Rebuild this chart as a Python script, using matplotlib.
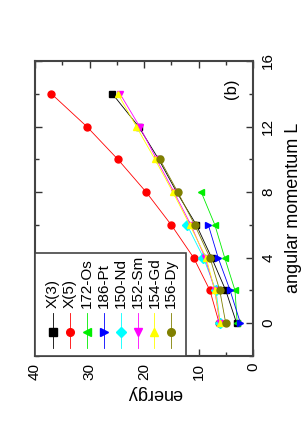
import matplotlib
matplotlib.use("Agg")
import matplotlib.pyplot as plt
from matplotlib.patches import Rectangle
from matplotlib.ticker import MultipleLocator

plt.rcParams['font.family'] = ['Liberation Sans', 'DejaVu Sans']

# data (energy vs angular momentum L); the figure is shown rotated 90 degrees
names = ['X(3)', 'X(5)', '172-Os', '186-Pt', '150-Nd', '152-Sm', '154-Gd', '156-Dy']
colors = ['black', 'red', '#00ee00', 'blue', 'cyan', 'magenta', 'yellow', 'olive']
markers = ['s', 'o', '<', '>', 'D', 'v', '^', 'o']

L_x3 = [0, 2, 4, 6, 8, 10, 12, 14]
E_x3 = [3.0, 5.0, 7.6, 10.4, 14.0, 17.3, 21.0, 25.8]
L_x5 = [0, 2, 4, 6, 8, 10, 12, 14]
E_x5 = [6.2, 7.9, 10.9, 15.0, 19.6, 24.8, 30.5, 37.0]
L_os = [0, 2, 4, 6, 8]
E_os = [2.9, 3.3, 5.2, 7.0, 9.5]
L_pt = [0, 2, 4, 6]
E_pt = [2.3, 4.2, 6.4, 8.2]
L_nd = [0, 2, 4, 6]
E_nd = [6.0, 6.8, 9.1, 12.1]
L_sm = [0, 2, 4, 6, 8, 10, 12, 14]
E_sm = [6.1, 7.0, 8.8, 11.4, 14.5, 17.7, 20.8, 24.4]
L_gd = [0, 2, 4, 6, 8, 10, 12, 14]
E_gd = [6.0, 7.0, 8.6, 11.6, 14.7, 18.0, 21.4, 24.8]
L_dy = [0, 2, 4, 6, 8, 10]
E_dy = [5.0, 6.1, 7.9, 10.7, 13.8, 17.1]

Ls = [L_x3, L_x5, L_os, L_pt, L_nd, L_sm, L_gd, L_dy]
Es = [E_x3, E_x5, E_os, E_pt, E_nd, E_sm, E_gd, E_dy]

fig = plt.figure(figsize=(3.03, 4.36), dpi=100)
ax = fig.add_axes([35 / 303, 1 - 356 / 436, 218 / 303, 295 / 436])

for L, E, c, m in zip(Ls, Es, colors, markers):
    ax.plot(E, L, color=c, lw=0.6, marker=m, ms=5, mec=c, mfc=c)

ax.set_xlim(40, 0)
ax.set_ylim(-2, 16)
ax.xaxis.set_major_locator(MultipleLocator(10))
ax.xaxis.set_minor_locator(MultipleLocator(5))
ax.yaxis.set_major_locator(MultipleLocator(4))
ax.yaxis.set_minor_locator(MultipleLocator(2))
ax.tick_params(which='both', direction='in', top=True, bottom=True, left=True, right=True,
               labelleft=False, labelright=True, labelsize=11, color='#333333', width=1)
ax.tick_params(which='major', length=5)
ax.tick_params(which='minor', length=3)
ax.tick_params(axis='x', pad=5)
ax.tick_params(axis='y', pad=6)
for lab in ax.get_xticklabels():
    lab.set_rotation(90)
    lab.set_va('top')
    lab.set_ha('center')
for lab in ax.get_yticklabels():
    lab.set_rotation(90)
    lab.set_va('center')
for sp in ax.spines.values():
    sp.set_linewidth(1.5)
    sp.set_color('#444444')

fig.text(155 / 303, 1 - 393 / 436, 'energy', rotation=180, ha='center', va='center', fontsize=13)
fig.text(293 / 303, 1 - 208 / 436, 'angular momentum L', rotation=90, ha='center', va='center', fontsize=13)
ax.text(0.9, 0.905, '(b)', rotation=90, ha='center', va='center', fontsize=12, transform=ax.transAxes)

# hand-drawn rotated legend
ax.add_patch(Rectangle((0, 0), 0.693, 0.349, transform=ax.transAxes, facecolor='white',
                       edgecolor='#444444', lw=1.2, zorder=5))
for i, (name, c, m) in enumerate(zip(names, colors, markers)):
    xl = 0.083 + 0.0775 * i
    ax.plot([xl, xl], [0.027, 0.146], color=c, lw=0.6, transform=ax.transAxes, zorder=6)
    ax.plot([xl], [0.081], marker=m, ms=5.5, color=c, transform=ax.transAxes, zorder=7)
    ax.text(xl, 0.163, name, rotation=90, ha='center', va='bottom', fontsize=11,
            transform=ax.transAxes, zorder=7)

fig.savefig('out.png', dpi=100)
